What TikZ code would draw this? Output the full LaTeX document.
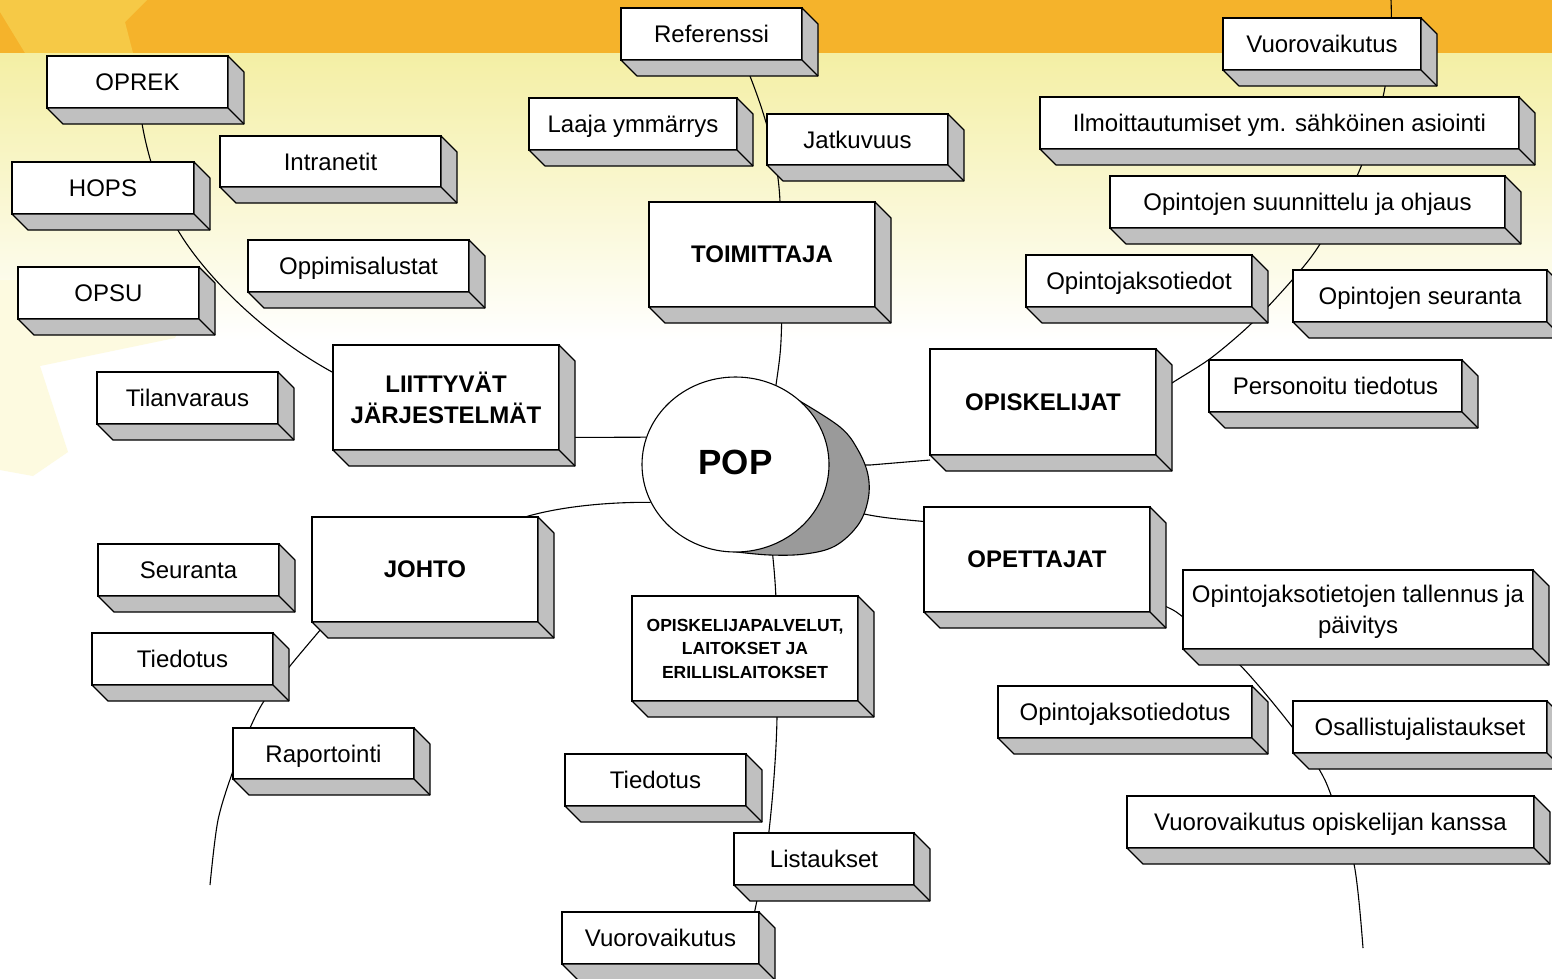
\documentclass[tikz,border=0pt]{standalone}
\usepackage{fontspec}
\setmainfont{Liberation Sans}
\usetikzlibrary{calc,shapes.geometric}
\definecolor{bandor}{RGB}{245,179,43}
\definecolor{bandlt}{RGB}{246,201,70}
\definecolor{paleyel}{RGB}{244,239,164}
\definecolor{starlt}{RGB}{253,250,224}
\definecolor{facegray}{RGB}{192,192,192}
\definecolor{popgray}{RGB}{154,154,154}
\pgfdeclarelayer{bgl}
\pgfdeclarelayer{lines}
\pgfsetlayers{bgl,lines,main}
\tikzset{
  bx/.style={draw=black, fill=white, line width=1.2pt, inner sep=0pt, outer sep=0pt, align=center, text depth=0pt, font=\fontsize{24}{31}\selectfont},
  bbx/.style={bx, font=\bfseries\fontsize{24}{31}\selectfont},
  sbx/.style={bx, font=\bfseries\fontsize{17.5}{23.5}\selectfont},
  face/.style={fill=facegray, draw=black, line width=1.2pt, line join=round},
  conn/.style={draw=black, line width=1.1pt},
}
\newcommand\mkbox[7][bx]{%
  \pgfmathsetmacro\bxcx{(#3+#5)/2}%
  \pgfmathsetmacro\bxcy{(#4+#6)/2}%
  \pgfmathsetmacro\bxw{#5-#3}%
  \pgfmathsetmacro\bxh{#6-#4}%
  \node[#1, minimum width=\bxw pt, minimum height=\bxh pt] (#2) at (\bxcx,\bxcy) {#7};
  \filldraw[face] (#2.south west) -- ++(16,16) -- ($(#2.south east)+(16,16)$) -- ($(#2.north east)+(16,16)$) -- (#2.north east) -- (#2.south east) -- cycle;
  \draw[face] (#2.south east) -- ++(16,16);
}
\begin{document}
\begin{tikzpicture}[x=1pt,y=-1pt]
\useasboundingbox (0,0) rectangle (1552,978);
\clip (0,0) rectangle (1552,978);
% background
\begin{pgfonlayer}{bgl}
\fill[white] (0,0) rectangle (1552,978);
\fill[bandor] (0,0) rectangle (1552,53);
\fill[bandlt] (0,0) -- (147,0) -- (125,22) -- (133,53) -- (25,53) -- (0,12) -- cycle;
\shade[top color=paleyel, bottom color=white] (0,53) rectangle (1552,340);
\fill[starlt] (0,280) -- (200,282) -- (175,338) -- (40,366) -- (68,452) -- (33,476) -- (0,470) -- cycle;
\end{pgfonlayer}

% POP
\filldraw[fill=popgray, draw=black, line width=1.1pt] plot[smooth, tension=0.6] coordinates {(798,400) (840,427) (858,450) (868,475) (868,500) (858,525) (835,546) (805,554) (770,555) (737,552)} -- (735,465) -- cycle;
\node[ellipse, draw=black, line width=1.1pt, fill=white, minimum width=187pt, minimum height=175pt, inner sep=0pt, text depth=4pt, font=\bfseries\fontsize{35}{40}\selectfont] (pop) at (735.5,464.5) {POP};

% boxes
\mkbox{oprek}{47}{56}{228}{108}{OPREK}
\mkbox{intra}{220}{136}{441}{187}{Intranetit}
\mkbox{hops}{12}{162}{194}{214}{HOPS}
\mkbox{oppi}{248}{240}{469}{292}{Oppimisalustat}
\mkbox{opsu}{18}{267}{199}{319}{OPSU}
\mkbox{tila}{97}{372}{278}{424}{Tilanvaraus}
\mkbox[bbx]{lj}{333}{345}{559}{450}{LIITTYVÄT\\JÄRJESTELMÄT}
\mkbox{ref}{621}{8}{802}{60}{Referenssi}
\mkbox{laaja}{529}{98}{737}{150}{Laaja ymmärrys}
\mkbox{jatk}{767}{114}{948}{165}{Jatkuvuus}
\mkbox[bbx]{toim}{649}{202}{875}{307}{TOIMITTAJA}
\mkbox{vtop}{1223}{18}{1421}{70}{Vuorovaikutus}
\mkbox{ilmo}{1040}{97}{1519}{149}{Ilmoittautumiset ym. sähköinen asiointi}
\mkbox{suun}{1110}{176}{1505}{228}{Opintojen suunnittelu ja ohjaus}
\mkbox{ojt}{1026}{255}{1252}{307}{Opintojaksotiedot}
\mkbox{seur}{1293}{270}{1547}{322}{Opintojen seuranta}
\mkbox{pers}{1209}{360}{1462}{412}{Personoitu tiedotus}
\mkbox[bbx]{opis}{930}{349}{1156}{455}{OPISKELIJAT}
\mkbox[bbx]{johto}{312}{517}{538}{622}{JOHTO}
\mkbox{seuranta}{98}{544}{279}{596}{Seuranta}
\mkbox{tied1}{92}{633}{273}{685}{Tiedotus}
\mkbox{rap}{233}{728}{414}{779}{Raportointi}
\mkbox[sbx]{palv}{632}{596}{858}{701}{OPISKELIJAPALVELUT,\\LAITOKSET JA\\ERILLISLAITOKSET}
\mkbox{tied2}{565}{754}{746}{806}{Tiedotus}
\mkbox{list}{734}{833}{914}{885}{Listaukset}
\mkbox{vbot}{562}{912}{759}{964}{Vuorovaikutus}
\mkbox[bbx]{opet}{924}{507}{1150}{612}{OPETTAJAT}
\mkbox{otall}{1183}{570}{1533}{649}{Opintojaksotietojen tallennus ja\\päivitys}
\mkbox{ojtd}{998}{686}{1252}{738}{Opintojaksotiedotus}
\mkbox{osal}{1293}{701}{1547}{753}{Osallistujalistaukset}
\mkbox{vok}{1127}{796}{1534}{848}{Vuorovaikutus opiskelijan kanssa}

% free ends and attachment points
\coordinate (jstart) at ([xshift=15pt]johto.south west);
\coordinate (jend) at (210,885);
\coordinate (vbtop) at ([xshift=94pt]vbot.north);
\coordinate (ostart) at ([yshift=7pt]opis.east);
\coordinate (topend) at (1391,0);
\coordinate (tstart) at ([yshift=-40pt]opet.east);
\coordinate (tend) at (1363,948);

% connectors
\begin{pgfonlayer}{lines}
\draw[conn] (pop.63) .. controls (781,350) .. ([xshift=20pt]toim.south);
\draw[conn] ([xshift=18pt]toim.north) .. controls (778,150) and (760,100) .. ([xshift=32pt]ref.south);
\draw[conn] ([yshift=-40pt]lj.east) -- (pop.163);
\draw[conn] ([yshift=25pt]lj.west) .. controls (255,330) and (190,260) .. (170,215) .. controls (155,180) and (143,140) .. ([xshift=2.5pt]oprek.south);
\draw[conn] (pop.204) .. controls (600,502) and (555,508) .. ([xshift=100pt]johto.north);
\draw[conn] plot[smooth, tension=0.5] coordinates {(jstart) (290,666) (264,701) (250,728) (234,768) (218,820) (jend)};
\draw[conn] plot[smooth, tension=0.5] coordinates {(pop.-66) (776,600) (777,717) (773,790) (766,855) (756,905) (vbtop)};
\draw[conn] (pop.east) -- (870,465) -- ([yshift=-58pt]opis.west);
\draw[conn] plot[smooth, tension=0.5] coordinates {(ostart) (1172,383) (1211,358) (1252,323) (1293,279) (1320,244) (1357,176) (1375,125) (1385,87) (1391,30) (topend)};
\draw[conn] (pop.-25) .. controls (875,517) .. ([yshift=38pt]opet.west);
\draw[conn] plot[smooth, tension=0.5] coordinates {(tstart) (1167,607) (1183,617) (1239,664) (1293,728) (1319,769) (1331,795) (1354,864) (tend)};
\end{pgfonlayer}
\end{tikzpicture}
\end{document}
